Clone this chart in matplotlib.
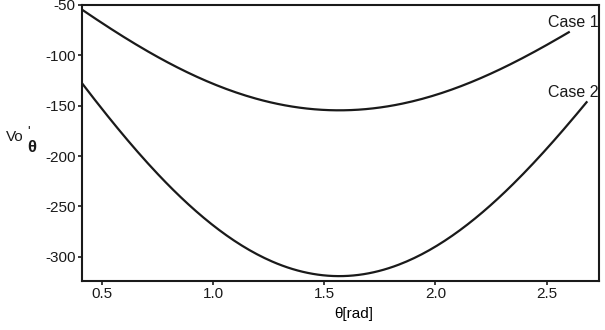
import numpy as np
import matplotlib
matplotlib.use("Agg")
import matplotlib.pyplot as plt
from numpy.polynomial import polynomial as P

plt.rcParams['font.family'] = ['Liberation Sans', 'DejaVu Sans']
plt.rcParams['axes.unicode_minus'] = False

# values
theta1 = [0.41, 0.55, 0.70, 0.85, 1.00, 1.15, 1.30, 1.44, 1.57, 1.68, 1.83, 1.98, 2.13, 2.28, 2.43, 2.60]
case1 = [-56, -73, -95, -113, -129, -142, -149, -153, -153, -153, -148, -142, -130, -115, -98, -77]

theta2 = [0.41, 0.57, 0.70, 0.85, 1.00, 1.15, 1.30, 1.45, 1.57, 1.67, 1.83, 1.98, 2.13, 2.28, 2.43, 2.59, 2.68]
case2 = [-127, -174, -204, -241, -269, -291, -308, -316, -318, -318, -310, -293, -271, -241, -207, -174, -145]

xticks = [0.5, 1.0, 1.5, 2.0, 2.5]
yticks = [-50, -100, -150, -200, -250, -300]

fig = plt.figure(figsize=(6.05, 3.3), dpi=100)
ax = fig.add_axes([0.1355, 0.1485, 0.855, 0.8365])

# smooth curves through the read points
for th, v in [(theta1, case1), (theta2, case2)]:
    c = P.polyfit(th, v, 4)
    xs = np.linspace(th[0], th[-1], 200)
    ax.plot(xs, P.polyval(xs, c), color='#1a1a1a', lw=1.6)

ax.text(2.735, case1[-1] + 2, 'Case 1', ha='right', va='bottom', fontsize=11.5, color='#1a1a1a')
ax.text(2.735, case2[-1] + 1, 'Case 2', ha='right', va='bottom', fontsize=11.5, color='#1a1a1a')

ax.set_xlim(0.41, 2.737)
ax.set_ylim(-324, -50)
ax.set_xticks(xticks)
ax.set_xticklabels([f'{t:.1f}' for t in xticks])
ax.set_yticks(yticks)
ax.tick_params(direction='out', length=3, width=1.2, labelsize=11, pad=1.5, colors='#1a1a1a')
for s in ax.spines.values():
    s.set_linewidth(1.5)
    s.set_color('#1a1a1a')

ax.set_xlabel('θ[rad]', fontsize=11, labelpad=1)
ax.xaxis.set_label_coords(0.525, -0.095)

# y label: Vo with prime above and theta below
fig.text(0.010, 0.585, 'Vo', fontsize=11, ha='left', va='center', color='#1a1a1a')
fig.text(0.045, 0.600, "'", fontsize=10, ha='left', va='center', color='#1a1a1a')
fig.text(0.045, 0.553, 'θ', fontsize=12, fontweight='bold', ha='left', va='center', color='#1a1a1a')

fig.savefig('out.png', dpi=100)
